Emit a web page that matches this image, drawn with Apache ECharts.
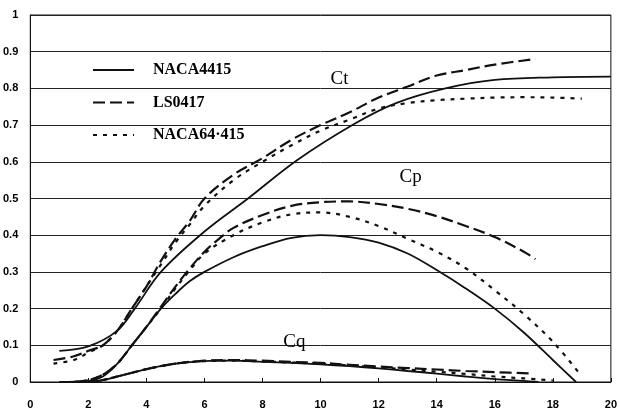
<!DOCTYPE html>
<html>
<head>
<meta charset="utf-8">
<script src="https://cdn.jsdelivr.net/npm/echarts@6/dist/echarts.min.js"></script>
<style>
  html, body { margin: 0; padding: 0; background: #fff; }
  #chart { width: 620px; height: 412px; }
</style>
</head>
<body>
<div id="chart"></div>
<script>
// airfoil names (legend)
const airfoils = ['NACA4415', 'LS0417', 'NACA64·415'];

// Ct curves [x, value]
const ctNaca4415 = [[1,0.085],[2,0.097],[3,0.14],[3.6,0.2],[4.5,0.3],[6,0.41],[7.5,0.5],[9.2,0.605],[11.2,0.705],[12.6,0.76],[14.3,0.8],[16,0.823],[18,0.83],[20,0.832]];
const ctLs0417 = [[0.8,0.06],[1.5,0.07],[2,0.085],[2.5,0.1],[3,0.14],[3.5,0.2],[4,0.26],[4.5,0.33],[5,0.39],[5.5,0.44],[6,0.5],[7,0.565],[8,0.61],[9,0.66],[10,0.7],[11,0.735],[12,0.775],[13,0.805],[14,0.835],[15,0.85],[16,0.865],[17.4,0.88]];
const ctNaca64 = [[0.8,0.05],[1.5,0.06],[2,0.08],[2.5,0.1],[3,0.14],[3.5,0.2],[4,0.26],[4.5,0.32],[5,0.38],[5.5,0.43],[6,0.48],[7,0.55],[8,0.6],[9,0.645],[10,0.685],[11,0.715],[12,0.745],[13,0.76],[14,0.768],[15,0.772],[16,0.775],[17,0.776],[18,0.775],[19,0.772]];

// Cp curves
const cpNaca4415 = [[1,0],[2,0.003],[2.5,0.015],[3,0.05],[3.5,0.1],[4,0.15],[4.5,0.2],[5,0.24],[5.5,0.275],[6,0.3],[7,0.34],[8,0.37],[9,0.393],[10,0.4],[11,0.395],[12,0.38],[13,0.35],[14,0.305],[15,0.255],[16,0.2],[17,0.135],[18,0.06],[18.8,0]];
const cpLs0417 = [[1.5,0],[2,0.005],[2.5,0.02],[3,0.05],[3.5,0.1],[4,0.15],[4.5,0.205],[5,0.26],[5.5,0.31],[6,0.355],[6.5,0.39],[7,0.42],[8,0.455],[9,0.48],[10,0.49],[11,0.492],[12,0.485],[13,0.472],[14,0.452],[15,0.425],[16,0.395],[17,0.355],[17.4,0.335]];
const cpNaca64 = [[1.5,0],[2,0.005],[2.5,0.02],[3,0.05],[3.5,0.1],[4,0.15],[4.5,0.2],[5,0.255],[5.5,0.305],[6,0.35],[7,0.4],[8,0.435],[9,0.457],[10,0.462],[11,0.45],[12,0.425],[13,0.39],[14,0.355],[15,0.31],[16,0.25],[17,0.185],[18,0.11],[18.9,0.025]];

// Cq curves
const cqNaca4415 = [[2,0],[2.5,0.005],[3,0.015],[3.5,0.025],[4,0.035],[5,0.05],[6,0.057],[7,0.058],[8,0.055],[9,0.052],[10,0.048],[11,0.043],[12,0.037],[13,0.03],[14,0.023],[15,0.015],[16,0.008],[17,0.003],[17.5,0]];
const cqLs0417 = [[2.2,0],[3,0.015],[4,0.035],[5,0.05],[6,0.058],[7,0.06],[8,0.058],[9,0.055],[10,0.052],[11,0.047],[12,0.042],[13,0.038],[14,0.034],[15,0.03],[16,0.027],[17.3,0.023]];
const cqNaca64 = [[2.2,0],[3,0.015],[4,0.035],[5,0.05],[6,0.057],[7,0.058],[8,0.056],[9,0.053],[10,0.05],[11,0.045],[12,0.04],[13,0.034],[14,0.028],[15,0.022],[16,0.015],[17,0.01],[18,0.004]];

// curve name labels [x, y, text]
const curveLabels = [[10.65,0.826,'Ct'],[13.1,0.558,'Cp'],[9.1,0.109,'Cq']];

const dashes = ['solid', [12, 5], [4, 6]];
const groups = [
    [ctNaca4415, ctLs0417, ctNaca64],
    [cpNaca4415, cpLs0417, cpNaca64],
    [cqNaca4415, cqLs0417, cqNaca64]
];

const series = [];
groups.forEach(g => {
    g.forEach((d, i) => {
        series.push({
            name: airfoils[i],
            type: 'line',
            data: d,
            smooth: 0.35,
            showSymbol: false,
            symbol: 'none',
            lineStyle: { color: '#111', width: i === 0 ? 1.8 : 2.2, type: dashes[i] },
            itemStyle: { color: '#111' },
            z: 3
        });
    });
});
series.push({
    name: 'labels',
    type: 'scatter',
    data: curveLabels,
    symbolSize: 0,
    itemStyle: { opacity: 1, color: '#000' },
    label: {
        show: true,
        position: 'inside',
        formatter: p => p.value[2],
        fontFamily: 'Liberation Serif',
        fontSize: 19,
        color: '#000',
        opacity: 1
    }
});

const chart = echarts.init(document.getElementById('chart'));
chart.setOption({
    animation: false,
    backgroundColor: '#fff',
    grid: { left: 30, right: 3, top: 15, bottom: 30, show: true, borderColor: '#111', borderWidth: 1 },
    legend: {
        data: airfoils,
        orient: 'vertical',
        left: 92,
        top: 62,
        padding: 0,
        itemWidth: 41,
        itemHeight: 16,
        itemGap: 16.5,
        selectedMode: false,
        itemStyle: { opacity: 0 },
        textStyle: { fontFamily: 'Liberation Serif', fontWeight: 'bold', fontSize: 16, color: '#000', padding: [0, 0, 0, 14] }
    },
    xAxis: {
        type: 'value',
        min: 0, max: 20, interval: 2,
        axisLine: { lineStyle: { color: '#111' } },
        axisTick: { inside: true, length: 4, lineStyle: { color: '#111' } },
        splitLine: { show: false },
        axisLabel: { fontFamily: 'Liberation Sans', fontWeight: 'bold', fontSize: 11, color: '#000', margin: 17 }
    },
    yAxis: {
        type: 'value',
        min: 0, max: 1, interval: 0.1,
        axisLine: { show: true, lineStyle: { color: '#111' } },
        axisTick: { show: false },
        splitLine: { lineStyle: { color: '#222', width: 1 } },
        axisLabel: {
            fontFamily: 'Liberation Sans', fontWeight: 'bold', fontSize: 11, color: '#000', margin: 12,
            formatter: v => String(+v.toFixed(1))
        }
    },
    series: series
});
</script>
</body>
</html>
